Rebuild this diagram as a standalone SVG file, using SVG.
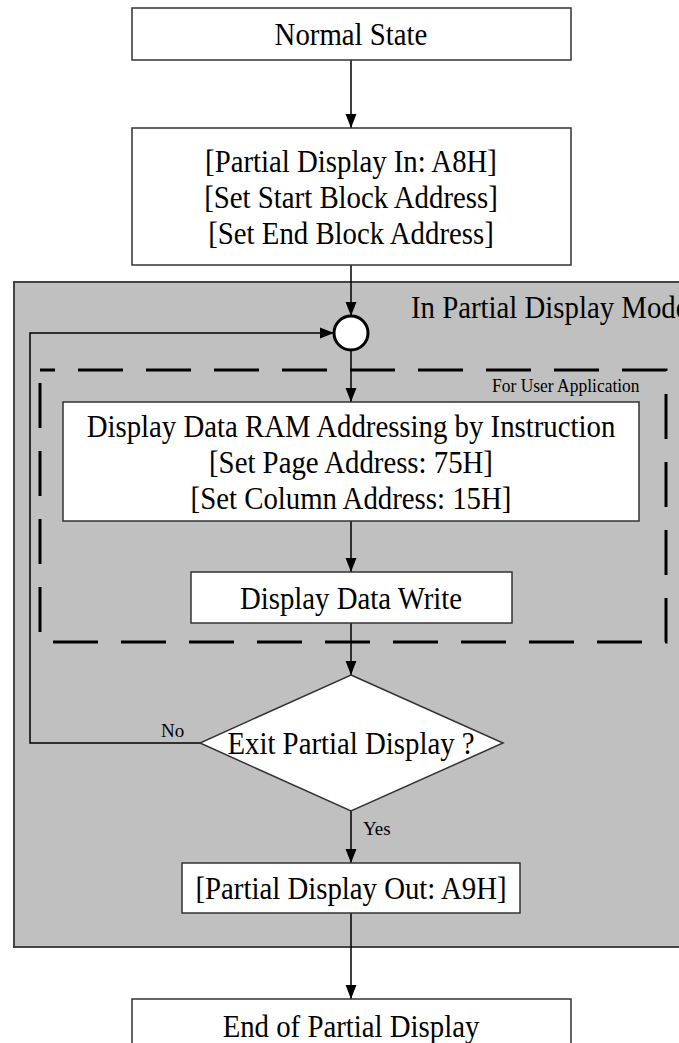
<svg xmlns="http://www.w3.org/2000/svg" width="679" height="1043" viewBox="0 0 679 1043">
<style>
.box{fill:#fff;stroke:#333;stroke-width:1.5}
.t{font-family:"Liberation Serif","Times New Roman",serif;font-size:32px;fill:#000;text-anchor:middle}
.s{font-family:"Liberation Serif","Times New Roman",serif;font-size:19px;fill:#000}
.c{fill:none;stroke:#000;stroke-width:1.5}
</style>
<defs>
<marker id="ah" markerUnits="userSpaceOnUse" markerWidth="14" markerHeight="18" refX="18" refY="7" viewBox="0 0 18 14" orient="auto">
<path d="M0,0 L18,7 L0,14 Z" fill="#000"/>
</marker>
</defs>
<rect width="679" height="1043" fill="#fff"/>
<g id="partial-mode-region">
<rect x="14" y="282" width="680" height="665" fill="#c0c0c0" stroke="#444" stroke-width="2"/>
<text class="t" x="411" y="318" style="text-anchor:start" transform="matrix(0.9 0 0 1 41.1 0)">In Partial Display Mode</text>
</g>
<g id="user-application-region">
<rect x="40" y="370" width="626" height="272" fill="none" stroke="#000" stroke-width="3" stroke-dasharray="45 23" stroke-dashoffset="30"/>
<text class="s" x="492" y="392" transform="matrix(0.92 0 0 1 39.4 0)">For User Application</text>
</g>
<g id="connectors">
<line class="c" x1="351" y1="60" x2="351" y2="128" marker-end="url(#ah)"/>
<line class="c" x1="351" y1="265" x2="351" y2="316" marker-end="url(#ah)"/>
<polyline class="c" points="200,743 30,743 30,333 334,333" marker-end="url(#ah)"/>
<line class="c" x1="351" y1="350" x2="351" y2="402" marker-end="url(#ah)"/>
<line class="c" x1="351" y1="521" x2="351" y2="572" marker-end="url(#ah)"/>
<line class="c" x1="351" y1="623" x2="351" y2="675" marker-end="url(#ah)"/>
<line class="c" x1="351" y1="811" x2="351" y2="863" marker-end="url(#ah)"/>
<line class="c" x1="351" y1="913" x2="351" y2="999" marker-end="url(#ah)"/>
<text class="s" x="161" y="737">No</text>
<text class="s" x="363" y="835">Yes</text>
</g>
<g id="normal-state">
<rect class="box" x="132" y="8" width="439" height="52"/>
<text class="t" x="351" y="45" transform="matrix(0.9 0 0 1 35.1 0)">Normal State</text>
</g>
<g id="partial-display-in">
<rect class="box" x="132" y="128" width="439" height="137"/>
<text class="t" x="351" y="172" transform="matrix(0.9 0 0 1 35.1 0)">[Partial Display In: A8H]</text>
<text class="t" x="351" y="208" transform="matrix(0.9 0 0 1 35.1 0)">[Set Start Block Address]</text>
<text class="t" x="351" y="244" transform="matrix(0.9 0 0 1 35.1 0)">[Set End Block Address]</text>
</g>
<g id="junction">
<circle cx="351" cy="333" r="17" fill="#fff" stroke="#000" stroke-width="3"/>
</g>
<g id="ram-addressing">
<rect class="box" x="63" y="402" width="576" height="119"/>
<text class="t" x="351" y="437" transform="matrix(0.9 0 0 1 35.1 0)">Display Data RAM Addressing by Instruction</text>
<text class="t" x="351" y="473" transform="matrix(0.9 0 0 1 35.1 0)">[Set Page Address: 75H]</text>
<text class="t" x="351" y="509" transform="matrix(0.9 0 0 1 35.1 0)">[Set Column Address: 15H]</text>
</g>
<g id="display-data-write">
<rect class="box" x="191" y="572" width="321" height="51"/>
<text class="t" x="351" y="609" transform="matrix(0.9 0 0 1 35.1 0)">Display Data Write</text>
</g>
<g id="exit-decision">
<polygon points="351,675 503,743 351,811 200,743" fill="#fff" stroke="#333" stroke-width="1.5"/>
<text class="t" x="351" y="754" transform="matrix(0.9 0 0 1 35.1 0)">Exit Partial Display ?</text>
</g>
<g id="partial-display-out">
<rect class="box" x="182" y="863" width="338" height="50"/>
<text class="t" x="351" y="899" transform="matrix(0.9 0 0 1 35.1 0)">[Partial Display Out: A9H]</text>
</g>
<g id="end-partial-display">
<rect class="box" x="132" y="999" width="439" height="54"/>
<text class="t" x="351" y="1037" transform="matrix(0.9 0 0 1 35.1 0)">End of Partial Display</text>
</g>
</svg>
